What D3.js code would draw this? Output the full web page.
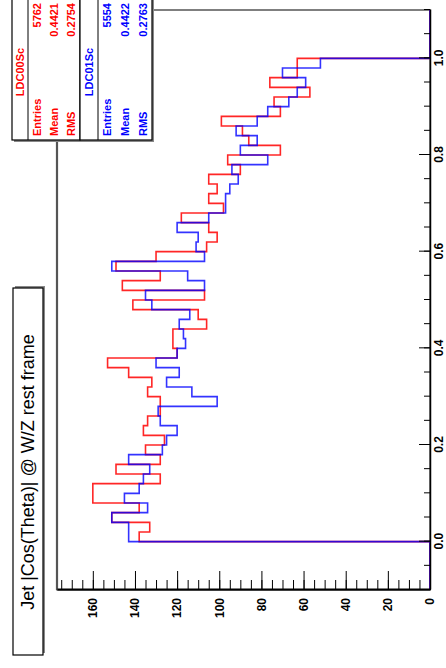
<!DOCTYPE html>
<html><head><meta charset="utf-8">
<script src="https://cdn.jsdelivr.net/npm/d3@7"></script>
<style>body{margin:0;background:#fff}svg{display:block}</style>
</head><body>
<svg id="c" width="446" height="668"></svg>
<script>
// ---- data ----
const binLo = 0.0, binHi = 1.0;          // histogram range with contents
const axisLo = -0.1, axisHi = 1.1;       // x-axis range
const redCounts = [138,133,151,138,160,160,128,149,128,135,
                   126,136,134,128,128,134,132,143,153,120,
                   122,122,106,110,141,107,146,128,149,130,
                   106,101,105,118,98,105,101,105,90,96,
                   71,86,89,99,71,74,57,76,63,63];
const blueCounts = [143,143,151,134,145,138,136,133,143,127,
                    125,120,128,129,101,113,125,119,130,120,
                    116,117,119,114,132,135,107,115,151,107,
                    111,110,120,105,97,97,95,91,94,77,
                    90,82,92,82,77,67,63,59,70,52];
const xTickVals = [0, 0.2, 0.4, 0.6, 0.8, 1.0];
const yTickVals = [0, 20, 40, 60, 80, 100, 120, 140, 160];
const countMax = 177;
const titleText = "Jet |Cos(Theta)| @ W/Z rest frame";
const statNames = ["LDC00Sc", "LDC01Sc"];
const statEntries = ["5762", "5554"];
const statMeans = ["0.4421", "0.4422"];
const statRMS = ["0.2754", "0.2763"];
const statColors = ["#ff0000", "#0000ff"];

// ---- layout (unrotated ROOT canvas 668 x 446, then rotated -90deg) ----
const W = 668, H = 446;
const fl = 78, fr = 658, ft = 57, fb = 430;
const font = "'Liberation Sans', Arial, Helvetica, sans-serif";

const svg = d3.select("#c");
svg.append("rect").attr("width", 446).attr("height", 668).attr("fill", "#fff");
const g = svg.append("g").attr("transform", `translate(0,${W}) rotate(-90)`);

const x = d3.scaleLinear().domain([axisLo, axisHi]).range([fl, fr]);
const y = d3.scaleLinear().domain([0, countMax]).range([fb, ft]);

// frame
g.append("rect").attr("x", fl).attr("y", ft).attr("width", fr - fl).attr("height", fb - ft)
  .attr("fill", "#fff").attr("stroke", "#000").attr("stroke-width", 1);
g.append("line").attr("x1", fl).attr("x2", fr).attr("y1", ft).attr("y2", ft)
  .attr("stroke", "#555").attr("stroke-width", 2.2);

// histograms
function stepPath(counts) {
  const n = counts.length, w = (binHi - binLo) / n;
  const pts = [[axisLo, 0], [binLo, 0]];
  counts.forEach((c, i) => { pts.push([binLo + i * w, c]); pts.push([binLo + (i + 1) * w, c]); });
  pts.push([binHi, 0]); pts.push([axisHi, 0]);
  return d3.line().x(d => x(d[0])).y(d => y(d[1]))(pts);
}
g.append("path").attr("d", stepPath(redCounts)).attr("fill", "none")
  .attr("stroke", statColors[0]).attr("stroke-width", 1.6).attr("stroke-opacity", 0.85);
g.append("path").attr("d", stepPath(blueCounts)).attr("fill", "none")
  .attr("stroke", statColors[1]).attr("stroke-width", 1.6).attr("stroke-opacity", 0.8);

// x axis (cos theta)
const xMinor = d3.range(Math.round(axisLo * 20), Math.round(axisHi * 20) + 1).map(k => k / 20);
g.append("g").attr("transform", `translate(0,${fb})`)
  .call(d3.axisBottom(x).tickValues(xMinor).tickSizeInner(-6).tickSizeOuter(0).tickFormat(""))
  .call(a => a.select(".domain").remove());
const xa = g.append("g").attr("transform", `translate(0,${fb})`)
  .call(d3.axisBottom(x).tickValues(xTickVals).tickSizeInner(-11).tickSizeOuter(0)
    .tickPadding(4).tickFormat(d3.format(".1f")));
xa.select(".domain").attr("stroke-width", 1.5);
xa.selectAll("text").attr("font-family", font).attr("font-size", 12).attr("font-weight", "bold").attr("fill", "#000");

// y axis (counts)
const yMinor = d3.range(0, countMax, 5);
g.append("g").attr("transform", `translate(${fl},0)`)
  .call(d3.axisLeft(y).tickValues(yMinor).tickSizeInner(-10).tickSizeOuter(0).tickFormat(""))
  .call(a => a.select(".domain").remove());
const ya = g.append("g").attr("transform", `translate(${fl},0)`)
  .call(d3.axisLeft(y).tickValues(yTickVals).tickSizeInner(-19).tickSizeOuter(0).tickPadding(8));
ya.select(".domain").attr("stroke-width", 2);
ya.selectAll("text").attr("font-family", font).attr("font-size", 12).attr("font-weight", "bold").attr("fill", "#000");

// title box
g.append("rect").attr("x", 15).attr("y", 15).attr("width", 367).attr("height", 30)
  .attr("fill", "#888");
g.append("rect").attr("x", 13).attr("y", 13).attr("width", 367).attr("height", 30)
  .attr("fill", "#fff").attr("stroke", "#000").attr("stroke-width", 1.2);
g.append("text").attr("x", 196).attr("y", 28).attr("dy", "0.36em").attr("text-anchor", "middle")
  .attr("font-family", font).attr("font-size", 18).text(titleText);

// stats boxes
const boxTop = [12, 80], boxBot = [80, 152], titleDiv = [28, 98];
const sl = 528, sr = 672;
statNames.forEach((nm, k) => {
  const col = statColors[k];
  g.append("rect").attr("x", sl - 2).attr("y", boxTop[k] + 2).attr("width", sr - sl)
    .attr("height", boxBot[k] - boxTop[k]).attr("fill", "#888");
  g.append("rect").attr("x", sl).attr("y", boxTop[k]).attr("width", sr - sl)
    .attr("height", boxBot[k] - boxTop[k]).attr("fill", "#fff").attr("stroke", "#000").attr("stroke-width", 1.2);
  g.append("line").attr("x1", sl).attr("x2", sr).attr("y1", titleDiv[k]).attr("y2", titleDiv[k])
    .attr("stroke", "#000").attr("stroke-width", 1);
  g.append("text").attr("x", 596).attr("y", (boxTop[k] + titleDiv[k]) / 2).attr("dy", "0.36em")
    .attr("text-anchor", "middle").attr("font-family", font).attr("font-size", 11)
    .attr("font-weight", "bold").attr("fill", col).text(nm);
  const rows = [["Entries", statEntries[k]], ["Mean", statMeans[k]], ["RMS", statRMS[k]]];
  const h = (boxBot[k] - titleDiv[k]) / 3;
  rows.forEach((r, j) => {
    const yy = titleDiv[k] + h * (j + 0.5);
    g.append("text").attr("x", sl + 4).attr("y", yy).attr("dy", "0.36em")
      .attr("font-family", font).attr("font-size", 11).attr("font-weight", "bold").attr("fill", col).text(r[0]);
    g.append("text").attr("x", 665).attr("y", yy).attr("dy", "0.36em").attr("text-anchor", "end")
      .attr("font-family", font).attr("font-size", 11).attr("font-weight", "bold").attr("fill", col).text(r[1]);
  });
});
</script>
</body></html>
